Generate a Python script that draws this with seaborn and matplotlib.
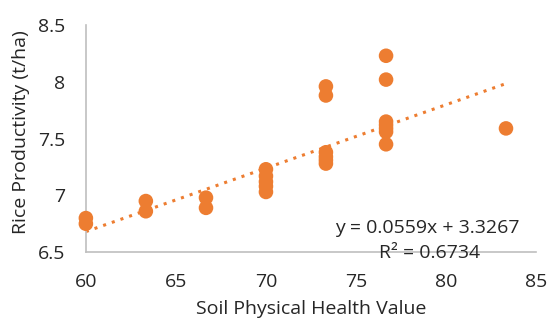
import matplotlib
matplotlib.use("Agg")
import matplotlib.pyplot as plt
import seaborn as sns
import numpy as np
import pandas as pd

# Data
soil_health = [60, 60,
               63.33, 63.33,
               66.67, 66.67,
               70, 70, 70, 70, 70,
               73.33, 73.33, 73.33, 73.33, 73.33, 73.33,
               76.67, 76.67, 76.67, 76.67, 76.67, 76.67, 76.67,
               83.33]
rice_prod = [6.80, 6.75,
             6.95, 6.86,
             6.98, 6.89,
             7.23, 7.17, 7.12, 7.08, 7.03,
             7.96, 7.88, 7.38, 7.34, 7.31, 7.28,
             8.23, 8.02, 7.65, 7.62, 7.59, 7.56, 7.45,
             7.59]
slope = 0.0559
intercept = 3.3267
r_squared = 0.6734
x_ticks = [60, 65, 70, 75, 80, 85]
y_ticks = [6.5, 7, 7.5, 8, 8.5]
y_tick_labels = ["6.5", "7", "7.5", "8", "8.5"]

sns.set_style("white")
plt.rcParams['font.family'] = ['Open Sans', 'DejaVu Sans']

color = "#ED7D31"
text_color = "#262626"
fs = 14
fig = plt.figure(figsize=(5.47, 3.22), dpi=100)
ax = fig.add_axes([0.157, 0.217, 0.823, 0.705])

df = pd.DataFrame({"x": soil_health, "y": rice_prod})
sns.scatterplot(data=df, x="x", y="y", ax=ax, color=color, s=110,
                edgecolor="none", linewidth=0, zorder=3, clip_on=False)

xs = np.array([min(soil_health), max(soil_health)])
trend = pd.DataFrame({"x": xs, "y": slope * xs + intercept})
sns.lineplot(data=trend, x="x", y="y", ax=ax, color=color,
             linestyle=(0, (1, 2)), linewidth=2.2, zorder=2)

ax.set_xlim(60, 85)
ax.set_ylim(6.5, 8.5)
ax.set_xticks(x_ticks)
ax.set_xticklabels([str(t) for t in x_ticks])
ax.set_yticks(y_ticks)
ax.set_yticklabels(y_tick_labels)
ax.tick_params(axis="both", length=0, labelsize=fs, colors=text_color)
ax.tick_params(axis="x", pad=15)
ax.tick_params(axis="y", pad=15)

for side in ["top", "right"]:
    ax.spines[side].set_visible(False)
for side in ["left", "bottom"]:
    ax.spines[side].set_color("#BFBFBF")
    ax.spines[side].set_linewidth(1.2)

ax.set_xlabel("Soil Physical Health Value", fontsize=fs, color=text_color)
ax.set_ylabel("Rice Productivity (t/ha)", fontsize=fs, color=text_color)
ax.xaxis.set_label_coords(0.5, -0.21)
ax.yaxis.set_label_coords(-0.125, 0.53)

ax.text(0.963, 0.105, f"y = {slope}x + {intercept}", transform=ax.transAxes,
        ha="right", va="center", fontsize=fs, color=text_color)
ax.text(0.764, -0.002, f"R² = {r_squared}", transform=ax.transAxes,
        ha="center", va="center", fontsize=fs, color=text_color)

fig.savefig("out.png", dpi=100)
